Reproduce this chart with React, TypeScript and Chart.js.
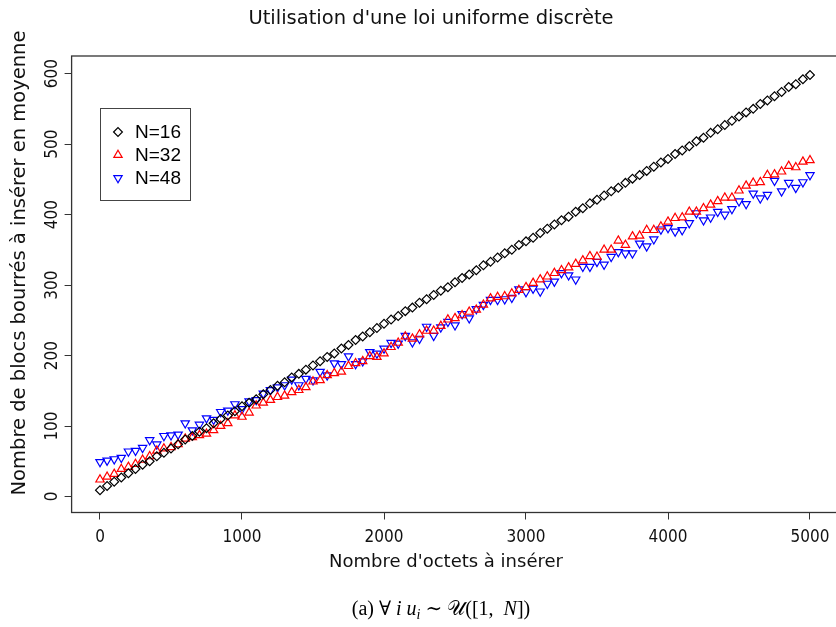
import React, { useEffect, useRef } from 'react';
import { Chart, registerables } from 'chart.js';
import { drawPoint } from 'chart.js/helpers';

Chart.register(...registerables);

const X_VALUES = [
  0, 50, 100, 150, 200, 250, 300, 350, 400, 450, 500, 550, 600, 650, 700, 750, 800, 850, 900, 950,
  1000, 1050, 1100, 1150, 1200, 1250, 1300, 1350, 1400, 1450, 1500, 1550, 1600, 1650, 1700, 1750, 1800, 1850, 1900, 1950,
  2000, 2050, 2100, 2150, 2200, 2250, 2300, 2350, 2400, 2450, 2500, 2550, 2600, 2650, 2700, 2750, 2800, 2850, 2900, 2950,
  3000, 3050, 3100, 3150, 3200, 3250, 3300, 3350, 3400, 3450, 3500, 3550, 3600, 3650, 3700, 3750, 3800, 3850, 3900, 3950,
  4000, 4050, 4100, 4150, 4200, 4250, 4300, 4350, 4400, 4450, 4500, 4550, 4600, 4650, 4700, 4750, 4800, 4850, 4900, 4950,
  5000,
];

const N16 = [
  9, 15, 21, 27, 33, 39, 45, 50, 57, 62,
  68, 74, 81, 86, 92, 97, 104, 110, 115, 121,
  128, 133, 138, 145, 151, 157, 162, 169, 174, 180,
  186, 192, 198, 203, 210, 215, 222, 227, 233, 239,
  245, 251, 256, 263, 268, 275, 280, 286, 292, 297,
  304, 310, 315, 321, 328, 333, 339, 345, 350, 357,
  362, 367, 374, 380, 386, 392, 397, 404, 409, 416,
  421, 427, 433, 438, 445, 451, 456, 462, 468, 474,
  479, 486, 491, 497, 504, 509, 516, 521, 527, 533,
  539, 545, 550, 557, 562, 568, 574, 581, 585, 592,
  598,
];

const N32 = [
  24, 28, 32, 39, 42, 46, 52, 57, 65, 68,
  70, 74, 82, 84, 87, 89, 94, 100, 104, 115,
  113, 119, 129, 133, 137, 141, 143, 148, 151, 155,
  163, 165, 172, 175, 177, 185, 189, 192, 199, 198,
  203, 212, 218, 227, 224, 230, 235, 235, 242, 251,
  253, 257, 262, 265, 272, 281, 283, 284, 288, 293,
  297, 303, 308, 312, 317, 321, 325, 330, 335, 341,
  340, 350, 350, 363, 357, 369, 370, 378, 378, 383,
  390, 395, 396, 404, 404, 409, 414, 419, 424, 424,
  434, 441, 445, 446, 456, 457, 461, 469, 467, 475,
  477,
];

const N48 = [
  49, 51, 53, 55, 64, 65, 69, 80, 74, 86,
  87, 88, 104, 94, 102, 111, 109, 120, 122, 131,
  124, 135, 137, 146, 151, 155, 158, 166, 158, 167,
  165, 177, 172, 189, 188, 199, 188, 192, 205, 203,
  210, 218, 217, 228, 219, 224, 241, 228, 240, 248,
  243, 259, 253, 266, 272, 279, 279, 280, 282, 294,
  290, 295, 291, 302, 305, 317, 314, 308, 326, 326,
  333, 329, 340, 347, 345, 345, 359, 355, 365, 379,
  381, 376, 378, 388, 402, 392, 396, 404, 400, 408,
  419, 415, 430, 423, 428, 448, 433, 445, 438, 446,
  456,
];

const SERIES_LABELS = ['N=16', 'N=32', 'N=48'];
const X_TICKS = [0, 1000, 2000, 3000, 4000, 5000];
const Y_TICKS = [0, 100, 200, 300, 400, 500, 600];

const TITLE = "Utilisation d'une loi uniforme discrète";
const X_TITLE = "Nombre d'octets à insérer";
const Y_TITLE = 'Nombre de blocs bourrés à insérer en moyenne';

const SANS = '"DejaVu Sans", "Liberation Sans", sans-serif';
const TICK_FONT = '"Liberation Sans Narrow", "DejaVu Sans Condensed", "Liberation Sans", sans-serif';

export default function App() {
  const ref = useRef<HTMLCanvasElement>(null);

  useEffect(() => {
    const canvas = ref.current;
    if (!canvas) return;
    const mk = (ys: number[]) => X_VALUES.map((x, i) => ({ x, y: ys[i] }));

    const decor = {
      id: 'rDecor',
      afterDraw(chart: any) {
        const { ctx, chartArea: a, scales } = chart;
        ctx.save();
        // plot box
        ctx.strokeStyle = '#333';
        ctx.lineWidth = 1.3;
        ctx.strokeRect(a.left, a.top, a.right - a.left, a.bottom - a.top);

        // y tick labels (rotated, R style)
        ctx.fillStyle = '#111';
        ctx.font = '17px ' + TICK_FONT;
        ctx.textAlign = 'center';
        ctx.textBaseline = 'middle';
        scales.y.ticks.forEach((t: any) => {
          const py = scales.y.getPixelForValue(t.value);
          ctx.save();
          ctx.translate(53, py);
          ctx.rotate(-Math.PI / 2);
          ctx.fillText(String(t.value), 0, 0);
          ctx.restore();
        });

        // legend
        ctx.strokeStyle = '#444';
        ctx.lineWidth = 1;
        ctx.strokeRect(100.5, 108.5, 90, 92);
        chart.data.datasets.forEach((ds: any, i: number) => {
          const yy = 132 + i * 23;
          ctx.fillStyle = 'rgba(0,0,0,0)';
          ctx.strokeStyle = ds.borderColor;
          ctx.lineWidth = ds.borderWidth;
          drawPoint(ctx, {
            pointStyle: ds.pointStyle,
            rotation: ds.rotation || 0,
            radius: ds.pointRadius,
            borderWidth: ds.borderWidth,
          } as any, 118, yy);
          ctx.fillStyle = '#000';
          ctx.font = '19px "Liberation Sans", sans-serif';
          ctx.textAlign = 'left';
          ctx.textBaseline = 'middle';
          ctx.fillText(ds.label, 135, yy + 1);
        });

        // main title
        ctx.fillStyle = '#111';
        ctx.font = '19.5px ' + SANS;
        ctx.textAlign = 'center';
        ctx.textBaseline = 'middle';
        ctx.fillText(TITLE, 431, 19);

        // x title
        ctx.font = '18px ' + SANS;
        ctx.fillText(X_TITLE, 446, 562);

        // y title
        ctx.font = '19.5px ' + SANS;
        ctx.save();
        ctx.translate(20, 263);
        ctx.rotate(-Math.PI / 2);
        ctx.fillText(Y_TITLE, 0, 0);
        ctx.restore();

        // caption (a) ∀ i u_i ~ U([1, N])
        const serif = '"Liberation Serif", "DejaVu Serif", serif';
        const parts: [string, string, number][] = [
          ['(a) ', 'normal', 0],
          ['\u2200 ', 'normal', 0],
          ['i ', 'italic', 0],
          ['u', 'italic', 0],
          ['i', 'italic', 1],
          [' \u223C ', 'normal', 0],
          ['\uD835\uDCB0', 'normal', 0],
          ['([1,  ', 'normal', 0],
          ['N', 'italic', 0],
          ['])', 'normal', 0],
        ];
        const fontFor = (style: string, sub: number) =>
          `${style} ${sub ? 14 : 20}px ${serif}`;
        let total = 0;
        parts.forEach(([s, st, sub]) => {
          ctx.font = fontFor(st, sub);
          total += ctx.measureText(s).width;
        });
        let cx = 441 - total / 2;
        ctx.textAlign = 'left';
        ctx.textBaseline = 'alphabetic';
        ctx.fillStyle = '#000';
        parts.forEach(([s, st, sub]) => {
          ctx.font = fontFor(st, sub);
          ctx.fillText(s, cx, sub ? 619 : 615);
          cx += ctx.measureText(s).width;
        });
        ctx.restore();
      },
    };

    const chart = new Chart(canvas, {
      type: 'scatter',
      data: {
        datasets: [
          {
            label: SERIES_LABELS[0],
            data: mk(N16),
            pointStyle: 'rectRot',
            pointRadius: 4.4,
            borderColor: '#000000',
            backgroundColor: 'rgba(0,0,0,0)',
            borderWidth: 1.2,
          },
          {
            label: SERIES_LABELS[1],
            data: mk(N32),
            pointStyle: 'triangle',
            pointRadius: 4.8,
            borderColor: '#ff0000',
            backgroundColor: 'rgba(0,0,0,0)',
            borderWidth: 1.2,
          },
          {
            label: SERIES_LABELS[2],
            data: mk(N48),
            pointStyle: 'triangle',
            rotation: 180,
            pointRadius: 4.8,
            borderColor: '#0000ff',
            backgroundColor: 'rgba(0,0,0,0)',
            borderWidth: 1.2,
          } as any,
        ],
      },
      options: {
        responsive: false,
        devicePixelRatio: 1,
        animation: false,
        layout: { padding: { top: 56, right: 11.6, left: 0, bottom: 0 } },
        plugins: {
          legend: { display: false },
          tooltip: { enabled: false },
          title: { display: false },
        },
        scales: {
          x: {
            type: 'linear',
            min: -200,
            max: 5200,
            afterBuildTicks: (s: any) => {
              s.ticks = X_TICKS.map((v) => ({ value: v }));
            },
            afterFit: (s: any) => {
              s.height = 114.5;
            },
            border: { display: false },
            grid: {
              display: true,
              drawOnChartArea: false,
              drawTicks: true,
              tickLength: 7,
              color: '#333',
              lineWidth: 1,
            },
            ticks: {
              color: '#111',
              font: { family: TICK_FONT, size: 17 },
              padding: 8,
              maxRotation: 0,
              autoSkip: false,
              callback: (v: any) => String(v),
            },
          },
          y: {
            type: 'linear',
            min: -22.7,
            max: 625,
            afterBuildTicks: (s: any) => {
              s.ticks = Y_TICKS.map((v) => ({ value: v }));
            },
            afterFit: (s: any) => {
              s.width = 71.6;
            },
            border: { display: false },
            grid: {
              display: true,
              drawOnChartArea: false,
              drawTicks: true,
              tickLength: 7,
              color: '#333',
              lineWidth: 1,
            },
            ticks: { display: false },
          },
        },
      },
      plugins: [decor],
    });

    return () => chart.destroy();
  }, []);

  return (
    <div
      style={{
        position: 'fixed',
        left: 0,
        top: 0,
        width: 836,
        height: 627,
        overflow: 'hidden',
        background: '#fff',
      }}
    >
      <canvas ref={ref} width={850} height={627} style={{ display: 'block', width: 850, height: 627 }} />
    </div>
  );
}
